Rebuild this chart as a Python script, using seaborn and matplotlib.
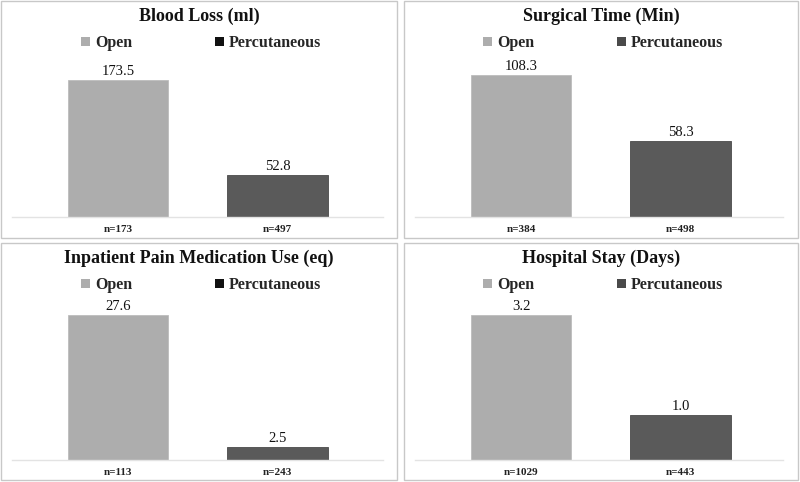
import pandas as pd
import matplotlib
matplotlib.use('Agg')
import matplotlib.pyplot as plt
from matplotlib.patches import Patch, Rectangle
import seaborn as sns

# data
titles = ['Blood Loss (ml)', 'Surgical Time (Min)',
          'Inpatient Pain Medication Use (eq)', 'Hospital Stay (Days)']
groups = ['Open', 'Percutaneous']
open_vals = [173.5, 108.3, 27.6, 3.2]
perc_vals = [52.8, 58.3, 2.5, 1.0]
open_n = ['n=173', 'n=384', 'n=113', 'n=1029']
perc_n = ['n=497', 'n=498', 'n=243', 'n=443']

sns.set_theme(style='white')
plt.rcParams['font.family'] = ['Liberation Serif', 'DejaVu Serif']

W, H = 800, 482
fig = plt.figure(figsize=(8, 4.82), dpi=100)
fig.patch.set_facecolor('white')

palette = {'Open': '#ADADAD', 'Percutaneous': '#5A5A5A'}

# panel layout in pixels: (box left, box top, box right, box bottom, axes left, axes right, baseline, bar1 top px)
panels = [
    (1, 1, 397, 238, 12, 383, 217, 80),
    (404, 1, 798, 238, 415, 783, 217, 75),
    (1, 243, 397, 480, 12, 383, 460, 315),
    (404, 243, 798, 480, 415, 783, 460, 315),
]

def fx(px):
    return px / W

def fy(py):
    return 1 - py / H

for i, (bl, bt, br, bb, al, ar, base, bar_top) in enumerate(panels):
    # panel frame
    fig.patches.append(Rectangle((fx(bl), fy(bb)), fx(br) - fx(bl), fy(bt) - fy(bb),
                                 transform=fig.transFigure, fill=False,
                                 edgecolor='#C8C8C8', linewidth=1))

    ax_top = bt + 64
    ax = fig.add_axes([fx(al), fy(base), fx(ar) - fx(al), fy(ax_top) - fy(base)])
    df = pd.DataFrame({'group': groups, 'value': [open_vals[i], perc_vals[i]]})
    sns.barplot(data=df, x='group', y='value', hue='group', palette=palette,
                width=0.627, edgecolor='#4A4A4A', linewidth=0.6, ax=ax,
                legend=False)
    for p in ax.patches:
        if p.get_facecolor()[0] > 0.5:
            p.set_edgecolor('#BDBDBD')

    ymax = open_vals[i] * (base - ax_top) / (base - bar_top)
    ax.set_ylim(0, ymax)
    # bar centres sit 106 px and 265.5 px from the axes' left edge
    left = -(106 / 159.5)
    ax.set_xlim(left, left + (ar - al) / 159.5)

    for j, v in enumerate([open_vals[i], perc_vals[i]]):
        ax.text(j, v + ymax * 0.012, f'{v:.1f}', ha='center', va='bottom',
                fontsize=10.5, color='#111111')

    ax.set_xticks([0, 1])
    ax.set_xticklabels([open_n[i], perc_n[i]], fontsize=8, fontweight='bold',
                       color='#222222')
    ax.tick_params(axis='x', length=0, pad=6)
    ax.set_yticks([])
    ax.set_xlabel('')
    ax.set_ylabel('')
    for s in ['top', 'right', 'left']:
        ax.spines[s].set_visible(False)
    ax.spines['bottom'].set_color('#E3E3E3')
    ax.spines['bottom'].set_linewidth(1)
    ax.patch.set_alpha(0)

    # title and legend
    mid = (bl + br) / 2
    fig.text(fx(mid), fy(bt + 15), titles[i], ha='center', va='center',
             fontsize=13, fontweight='bold', color='#111111')
    lg_colors = ['#ADADAD', '#111111' if i % 2 == 0 else '#4A4A4A']
    handles = [Patch(facecolor=c, edgecolor='none') for c in lg_colors]
    fig.legend(handles, groups, loc='center', bbox_to_anchor=(fx(mid + 2), fy(bt + 42)),
               ncol=2, frameon=False, handlelength=0.55, handleheight=0.55,
               handletextpad=0.3, columnspacing=5.2,
               prop={'family': 'Liberation Serif', 'weight': 'bold', 'size': 11.5})

fig.savefig('out.png', dpi=100, facecolor='white')
